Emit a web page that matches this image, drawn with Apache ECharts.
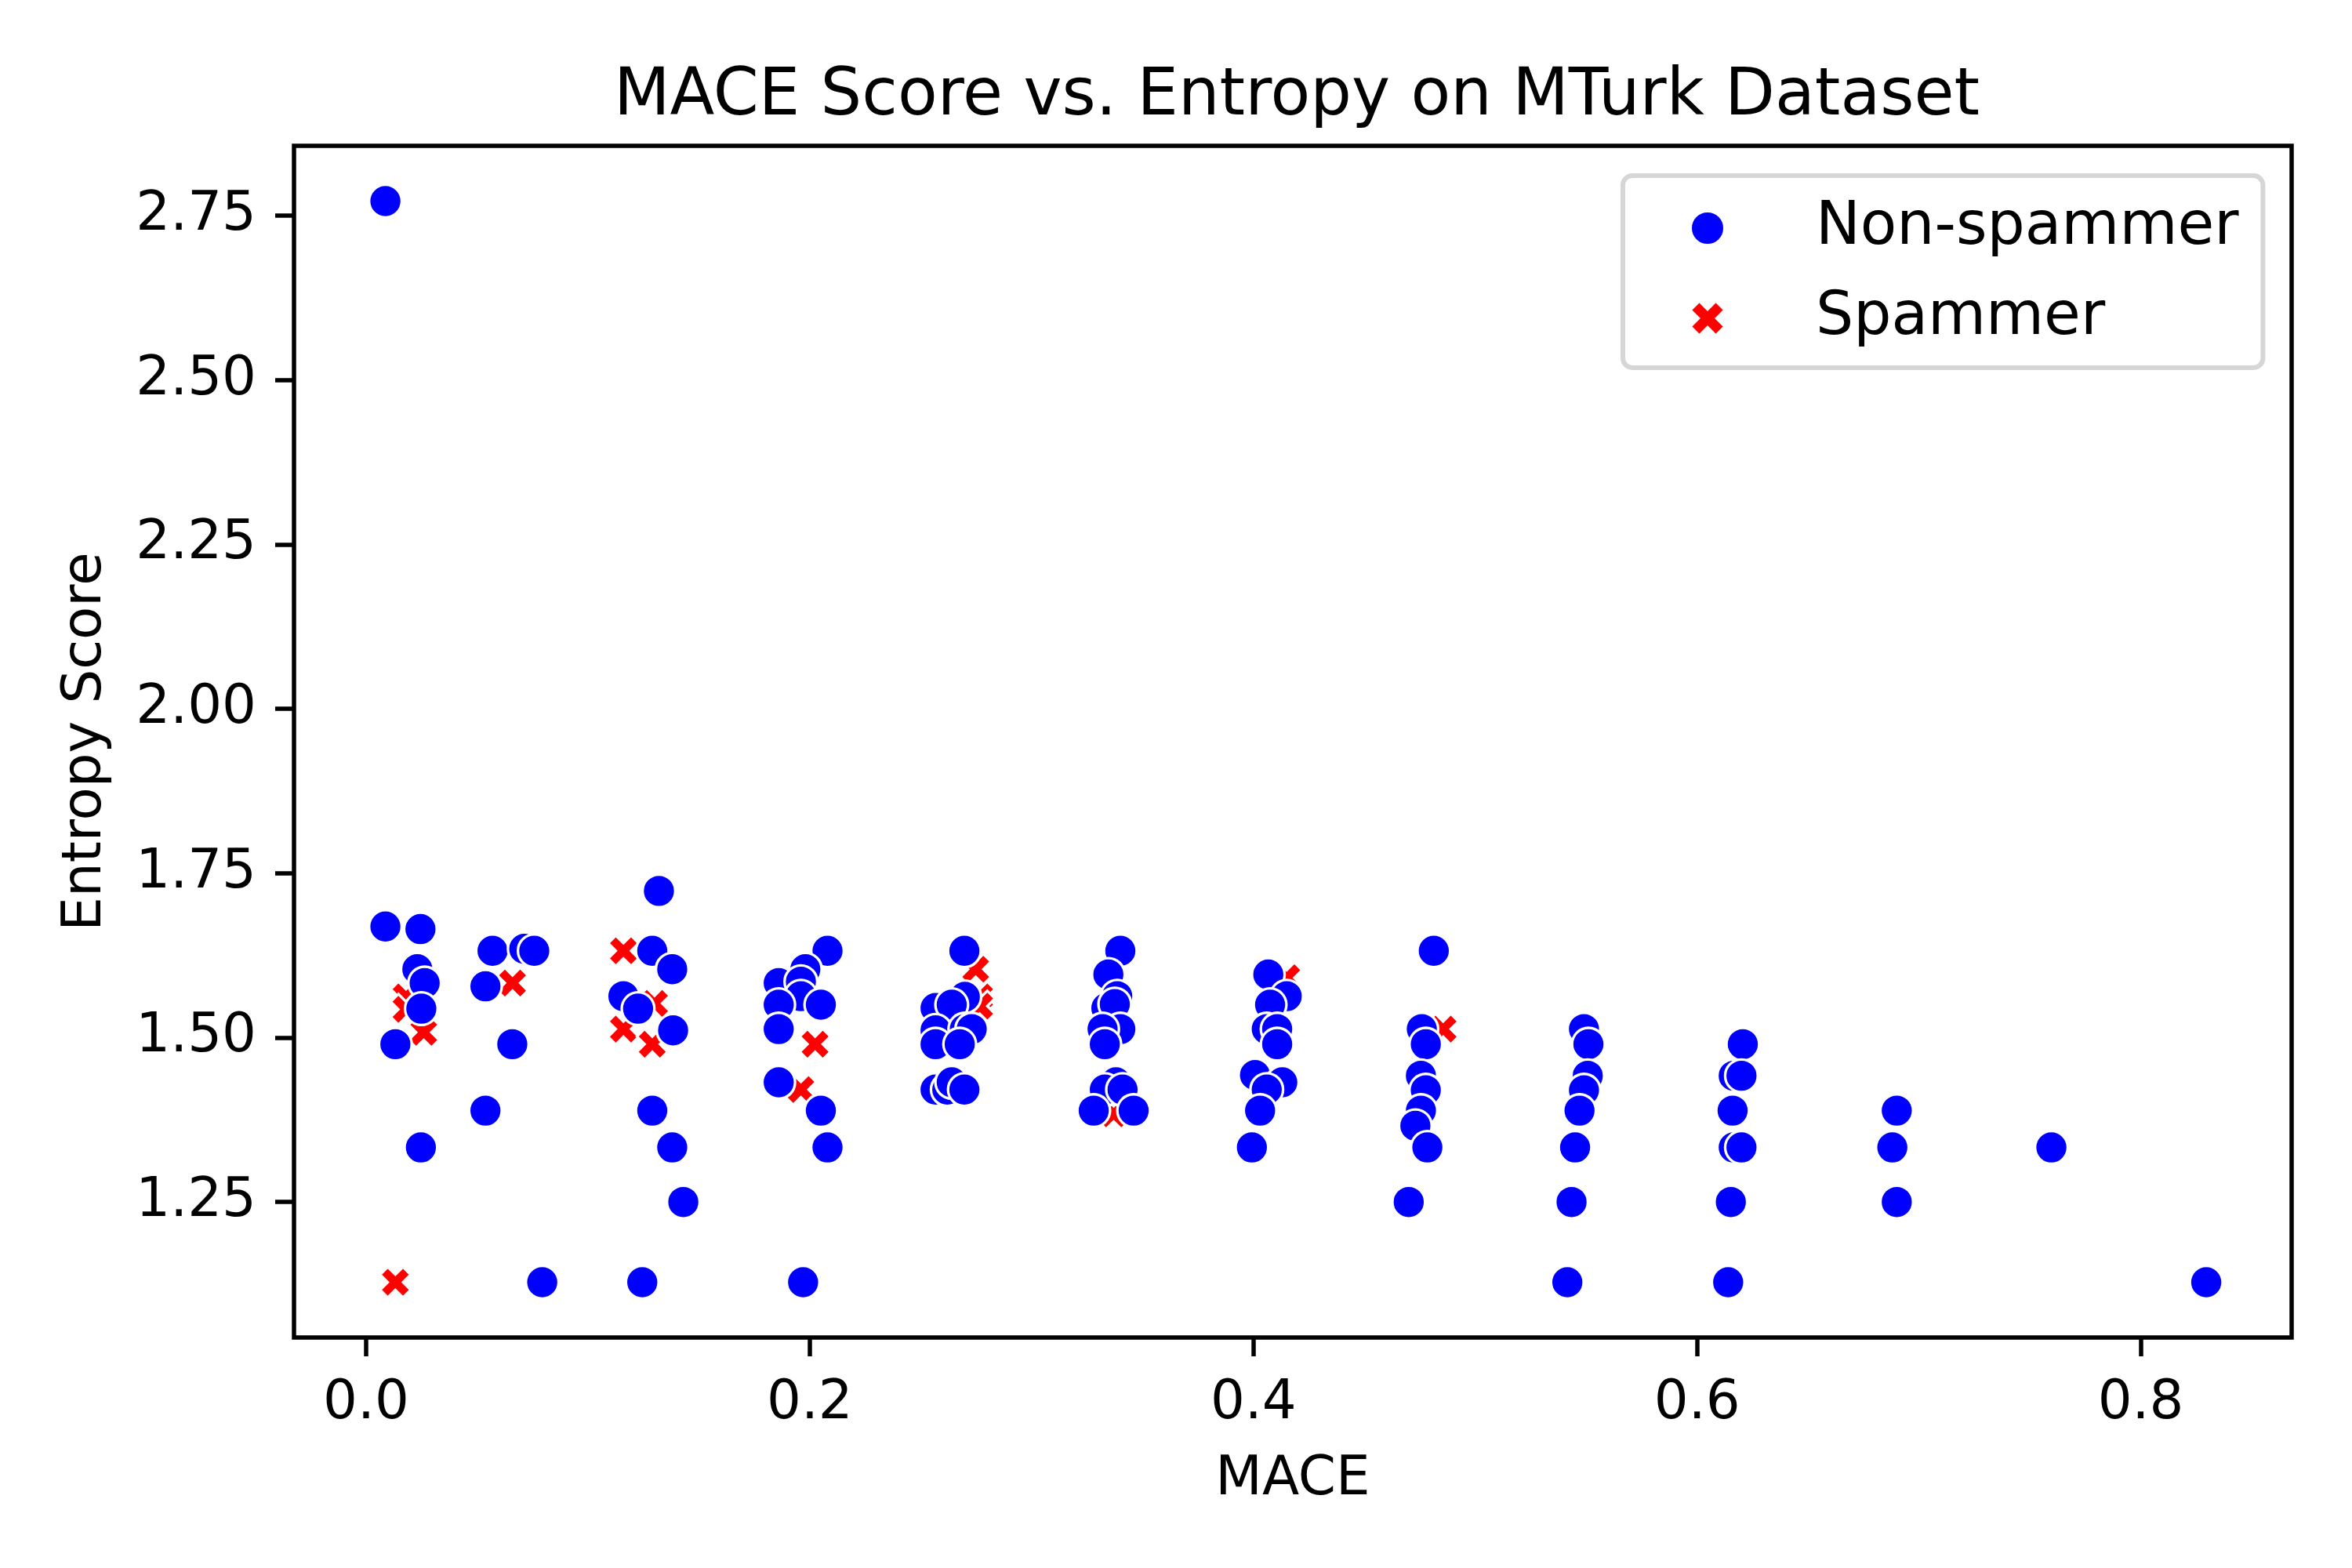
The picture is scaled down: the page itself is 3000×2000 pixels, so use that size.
<!DOCTYPE html>
<html>
<head>
<meta charset="utf-8">
<title>MACE Score vs. Entropy on MTurk Dataset</title>
<script src="https://cdn.jsdelivr.net/npm/echarts@6/dist/echarts.min.js"></script>
<style>
  html, body { margin: 0; padding: 0; background: #fff; }
  #chart { width: 3000px; height: 2000px; }
</style>
</head>
<body>
<div id="chart"></div>
<script>
// tick positions
const xTicks = [0, 0.2, 0.4, 0.6, 0.8]
const yTicks = [1.25, 1.5, 1.75, 2.0, 2.25, 2.5, 2.75]

// [MACE, Entropy Score]
const nonSpammer = [
  [0.0087, 2.772], [0.0087, 1.669], [0.0245, 1.665], [0.0231, 1.604], [0.0264, 1.583],
  [0.0249, 1.544], [0.0132, 1.490], [0.0247, 1.333],
  [0.057, 1.632], [0.0713, 1.635], [0.0758, 1.632], [0.0538, 1.578], [0.0659, 1.490],
  [0.0538, 1.389], [0.0794, 1.128],
  [0.132, 1.723], [0.129, 1.632], [0.138, 1.604], [0.116, 1.563], [0.1226, 1.544],
  [0.1384, 1.511], [0.129, 1.389], [0.138, 1.333], [0.143, 1.250], [0.1245, 1.128],
  [0.208, 1.632], [0.198, 1.604], [0.186, 1.583], [0.196, 1.585], [0.196, 1.563],
  [0.186, 1.550], [0.205, 1.550], [0.186, 1.513], [0.186, 1.432], [0.205, 1.389],
  [0.208, 1.333], [0.197, 1.128],
  [0.2697, 1.632], [0.2567, 1.545], [0.2699, 1.562], [0.264, 1.550], [0.2567, 1.511],
  [0.2699, 1.513], [0.273, 1.513], [0.2567, 1.490], [0.2676, 1.490], [0.2567, 1.421],
  [0.262, 1.421], [0.264, 1.432], [0.2697, 1.421],
  [0.340, 1.632], [0.3346, 1.596], [0.3386, 1.563], [0.3337, 1.545], [0.3375, 1.551],
  [0.340, 1.513], [0.332, 1.513], [0.333, 1.490], [0.338, 1.432], [0.333, 1.421],
  [0.341, 1.421], [0.328, 1.389], [0.346, 1.389],
  [0.4067, 1.596], [0.415, 1.563], [0.4075, 1.550], [0.406, 1.513], [0.4107, 1.513],
  [0.4107, 1.490], [0.4007, 1.443], [0.413, 1.432], [0.406, 1.421], [0.403, 1.389],
  [0.3993, 1.333],
  [0.4813, 1.632], [0.4759, 1.513], [0.4777, 1.490], [0.4755, 1.442], [0.4777, 1.420],
  [0.4755, 1.389], [0.473, 1.366], [0.4784, 1.333], [0.470, 1.250],
  [0.549, 1.513], [0.551, 1.490], [0.5507, 1.442], [0.549, 1.420], [0.547, 1.389],
  [0.545, 1.333], [0.5434, 1.250], [0.5415, 1.128],
  [0.6206, 1.490], [0.6165, 1.442], [0.620, 1.442], [0.616, 1.389], [0.6165, 1.333],
  [0.620, 1.333], [0.6152, 1.250], [0.614, 1.128],
  [0.690, 1.389], [0.688, 1.333], [0.690, 1.250], [0.7597, 1.333], [0.8295, 1.128]
]

const spammer = [
  [0.0132, 1.128], [0.018, 1.562], [0.018, 1.543], [0.026, 1.508], [0.066, 1.583],
  [0.116, 1.632], [0.116, 1.513], [0.129, 1.490], [0.130, 1.552], [0.2024, 1.490],
  [0.196, 1.421], [0.2748, 1.604], [0.2766, 1.562], [0.2766, 1.548], [0.337, 1.384],
  [0.415, 1.591], [0.4855, 1.513]
]

const font = 'DejaVu Sans'
// filled x, like matplotlib 'X'
const xMarker = 'path://M2,3L1,4L0,3L1,2L0,1L1,0L2,1L3,0L4,1L3,2L4,3L3,4Z'

const chart = echarts.init(document.getElementById('chart'), null, { renderer: 'canvas' })

const option = {
  animation: false,
  backgroundColor: '#fff',
  title: {
    text: 'MACE Score vs. Entropy on MTurk Dataset',
    left: 1649,
    textAlign: 'center',
    top: 78,
    textStyle: {
      fontFamily: font,
      fontSize: 83,
      fontWeight: 'normal',
      color: '#000',
      lineHeight: 83
    }
  },
  legend: {
    orient: 'vertical',
    left: 2070,
    top: 224,
    data: [
      { name: 'Non-spammer', icon: 'circle' },
      { name: 'Spammer', icon: xMarker }
    ],
    itemWidth: 42,
    itemHeight: 42,
    itemGap: 35,
    padding: [27, 31, 23, 86],
    backgroundColor: '#fff',
    borderColor: '#d6d6d6',
    borderWidth: 6,
    borderRadius: 12,
    textStyle: {
      fontFamily: font,
      fontSize: 76,
      color: '#000',
      lineHeight: 80,
      padding: [0, 0, 0, 112]
    }
  },
  grid: {
    left: 375,
    top: 186,
    width: 2548,
    height: 1520,
    show: true,
    borderColor: '#000',
    borderWidth: 5.5,
    outerBoundsMode: 'none'
  },
  xAxis: {
    type: 'value',
    min: -0.0325,
    max: 0.868,
    name: 'MACE',
    nameLocation: 'middle',
    nameGap: 148,
    nameTextStyle: { fontFamily: font, fontSize: 69, color: '#000' },
    axisLine: { show: false, onZero: false },
    splitLine: { show: false },
    axisTick: {
      show: true,
      length: 24,
      customValues: xTicks,
      lineStyle: { color: '#000', width: 5.5 }
    },
    axisLabel: {
      customValues: xTicks,
      margin: 51,
      fontFamily: font,
      fontSize: 69,
      color: '#000',
      formatter: v => v.toFixed(1)
    }
  },
  yAxis: {
    type: 'value',
    min: 1.044,
    max: 2.856,
    name: 'Entropy Score',
    nameLocation: 'middle',
    nameGap: 230,
    nameTextStyle: { fontFamily: font, fontSize: 69, color: '#000' },
    axisLine: { show: false, onZero: false },
    splitLine: { show: false },
    axisTick: {
      show: true,
      length: 24,
      customValues: yTicks,
      lineStyle: { color: '#000', width: 5.5 }
    },
    axisLabel: {
      customValues: yTicks,
      margin: 48,
      fontFamily: font,
      fontSize: 69,
      color: '#000',
      formatter: v => v.toFixed(2)
    }
  },
  series: [
    {
      name: 'Spammer',
      type: 'scatter',
      z: 2,
      symbol: xMarker,
      symbolSize: 39,
      data: spammer,
      itemStyle: { color: '#ff0000', borderColor: '#fff', borderWidth: 3.3, opacity: 1 }
    },
    {
      name: 'Non-spammer',
      type: 'scatter',
      z: 3,
      symbol: 'circle',
      symbolSize: 41.7,
      data: nonSpammer,
      itemStyle: { color: '#0000ff', borderColor: '#fff', borderWidth: 3.3, opacity: 1 }
    }
  ]
}

chart.setOption(option)
</script>
</body>
</html>
